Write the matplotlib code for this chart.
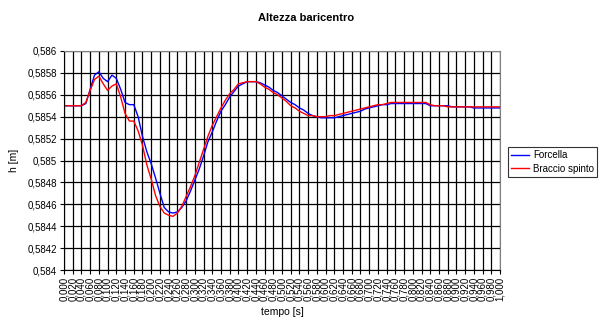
import numpy as np
import matplotlib
matplotlib.use("Agg")
import matplotlib.pyplot as plt

plt.rcParams['font.family'] = ['Liberation Sans', 'DejaVu Sans']

# tempo [s], campionato ogni 0,01 s
tempo = np.round(np.arange(0, 101) * 0.01, 2)

forcella = [
    0.58550, 0.58550, 0.58550, 0.58550, 0.58550, 0.58552, 0.58565, 0.58578, 0.58581, 0.58575,
    0.58572, 0.58578, 0.58575, 0.58565, 0.58553, 0.58551, 0.58551, 0.58540, 0.58522, 0.58508,
    0.58497, 0.58484, 0.58470, 0.58457, 0.58453, 0.58452, 0.58453, 0.58457, 0.58463, 0.58472,
    0.58482, 0.58492, 0.58504, 0.58517, 0.58526, 0.58536, 0.58545, 0.58551, 0.58558, 0.58563,
    0.58568, 0.58570, 0.58572, 0.58572, 0.58572, 0.58571, 0.58569, 0.58567, 0.58564, 0.58562,
    0.58559, 0.58556, 0.58553, 0.58551, 0.58548, 0.58546, 0.58543, 0.58541, 0.58540, 0.58539,
    0.58539, 0.58539, 0.58539, 0.58540, 0.58541, 0.58542, 0.58543, 0.58544, 0.58545, 0.58547,
    0.58548, 0.58549, 0.58550, 0.58551, 0.58551, 0.58552, 0.58552, 0.58552, 0.58552, 0.58552,
    0.58552, 0.58552, 0.58552, 0.58552, 0.58550, 0.58550, 0.58550, 0.58550, 0.58550, 0.58549,
    0.58549, 0.58549, 0.58549, 0.58549, 0.58548, 0.58548, 0.58548, 0.58548, 0.58548, 0.58548,
    0.58548,
]

braccio_spinto = [
    0.58550, 0.58550, 0.58550, 0.58550, 0.58550, 0.58553, 0.58564, 0.58574, 0.58577, 0.58570,
    0.58564, 0.58568, 0.58570, 0.58558, 0.58543, 0.58536, 0.58536, 0.58527, 0.58514, 0.58496,
    0.58483, 0.58468, 0.58458, 0.58452, 0.58450, 0.58449, 0.58452, 0.58458, 0.58467, 0.58476,
    0.58486, 0.58498, 0.58510, 0.58522, 0.58532, 0.58540, 0.58548, 0.58555, 0.58561, 0.58565,
    0.58570, 0.58571, 0.58572, 0.58572, 0.58572, 0.58570, 0.58567, 0.58565, 0.58562, 0.58560,
    0.58557, 0.58554, 0.58550, 0.58548, 0.58545, 0.58543, 0.58541, 0.58541, 0.58540, 0.58540,
    0.58540, 0.58541, 0.58541, 0.58542, 0.58543, 0.58544, 0.58545, 0.58546, 0.58547, 0.58548,
    0.58549, 0.58550, 0.58551, 0.58551, 0.58552, 0.58553, 0.58553, 0.58553, 0.58553, 0.58553,
    0.58553, 0.58553, 0.58553, 0.58553, 0.58551, 0.58550, 0.58550, 0.58550, 0.58549, 0.58549,
    0.58549, 0.58549, 0.58549, 0.58549, 0.58549, 0.58549, 0.58549, 0.58549, 0.58549, 0.58549,
    0.58549,
]

x_ticks = np.round(np.arange(0, 51) * 0.02, 3)
y_ticks = np.round(np.arange(0, 11) * 0.0002 + 0.584, 4)

fig = plt.figure(figsize=(6, 3.3), dpi=100)
ax = fig.add_axes([64 / 600, 1 - 270 / 330, 436 / 600, 219 / 330])

ax.plot(tempo, forcella, color="#0000FF", lw=1.0, label="Forcella")
ax.plot(tempo, braccio_spinto, color="#FF0000", lw=1.0, label="Braccio spinto")

ax.set_xlim(0, 1)
ax.set_ylim(0.584, 0.586)
ax.set_xticks(x_ticks)
ax.set_xticklabels([f"{v:.3f}".replace(".", ",") for v in x_ticks], rotation=90, fontsize=7)
ax.set_yticks(y_ticks)
ax.set_yticklabels([f"{v:.4f}".rstrip("0").replace(".", ",") for v in y_ticks], fontsize=7)
ax.tick_params(axis="both", length=3, width=0.8, color="black", pad=2)

ax.grid(True, color="black", lw=0.9)
ax.set_axisbelow(True)
for side in ["top", "right"]:
    ax.spines[side].set_color("#808080")
for side in ["left", "bottom"]:
    ax.spines[side].set_color("black")

ax.set_xlabel("tempo [s]", fontsize=7.5, labelpad=4)
ax.set_ylabel("h [m]", fontsize=7.5, labelpad=6)
fig.text(0.51, 0.945, "Altezza baricentro", fontsize=8, fontweight="bold", ha="center", va="center")

leg = fig.legend(loc="upper left", bbox_to_anchor=(508 / 600, 1 - 147 / 330), fontsize=7,
                 frameon=True, fancybox=False, edgecolor="black", handlelength=1.8,
                 borderpad=0.35, labelspacing=0.35, handletextpad=0.4, borderaxespad=0)
leg.get_frame().set_linewidth(0.8)

fig.savefig("out.png", dpi=100)
